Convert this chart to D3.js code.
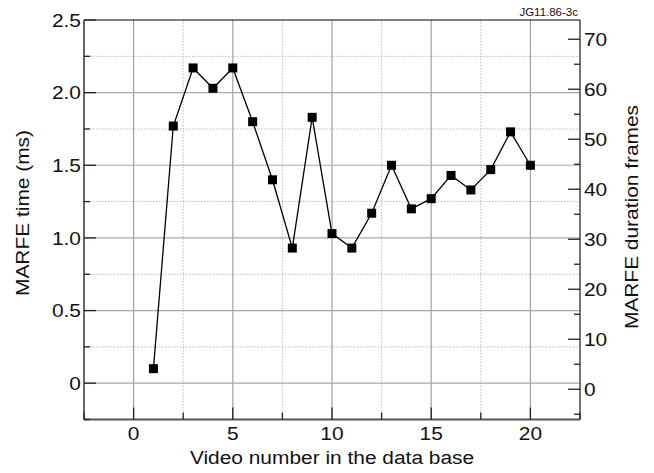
<!DOCTYPE html>
<html>
<head>
<meta charset="utf-8">
<script src="https://cdn.jsdelivr.net/npm/d3@7"></script>
<style>
  body { margin: 0; background: #fff; }
  svg { display: block; font-family: "Liberation Sans", Arial, sans-serif; }
</style>
</head>
<body>
<div id="chart"></div>
<script>
// MARFE time per video, dual axis (ms on left, frames on right)

// ----- data -----
const videoNumbers = [1, 2, 3, 4, 5, 6, 7, 8, 9, 10, 11, 12, 13, 14, 15, 16, 17, 18, 19, 20];
const marfeTimeMs = [0.10, 1.77, 2.17, 2.03, 2.17, 1.80, 1.40, 0.93, 1.83, 1.03,
                     0.93, 1.17, 1.50, 1.20, 1.27, 1.43, 1.33, 1.47, 1.73, 1.50];
const xTicks = [0, 5, 10, 15, 20];
const xMinorTicks = [-2.5, 2.5, 7.5, 12.5, 17.5, 22.5];
const yTicks = [0, 0.5, 1.0, 1.5, 2.0, 2.5];
const yTickLabels = ["0", "0.5", "1.0", "1.5", "2.0", "2.5"];
const yMinorTicks = [-0.25, 0.25, 0.75, 1.25, 1.75, 2.25];
const rightTicks = [0, 10, 20, 30, 40, 50, 60, 70];
const rightMinorTicks = [-5, 5, 15, 25, 35, 45, 55, 65];

const width = 654, height = 473;
const plotLeft = 84, plotRight = 580, plotTop = 20, plotBottom = 419.5;
const fontSize = "19px";
const stretch = "scale(1.1,1)"; // original lettering is a bit wider than Liberation Sans

const svg = d3.select("#chart").append("svg")
  .attr("width", width)
  .attr("height", height);

// scales
const x = d3.scaleLinear().domain([-2.5, 22.5]).range([plotLeft, plotRight]);
const y = d3.scaleLinear().domain([-0.25, 2.5]).range([plotBottom, plotTop]);
const yR = d3.scaleLinear().domain([-6.05, 73.85]).range([plotBottom, plotTop]);

// ----- grid -----
const grid = svg.append("g");
grid.selectAll(".vminor").data(xMinorTicks).enter().append("line")
  .attr("x1", d => x(d)).attr("x2", d => x(d))
  .attr("y1", plotTop).attr("y2", plotBottom)
  .attr("stroke", "#bbb").attr("stroke-width", 1)
  .attr("stroke-dasharray", "1.5,1.5");
grid.selectAll(".hminor").data(yMinorTicks).enter().append("line")
  .attr("x1", plotLeft).attr("x2", plotRight)
  .attr("y1", d => y(d)).attr("y2", d => y(d))
  .attr("stroke", "#bbb").attr("stroke-width", 1)
  .attr("stroke-dasharray", "1.5,1.5");
grid.selectAll(".vmajor").data(xTicks).enter().append("line")
  .attr("x1", d => x(d)).attr("x2", d => x(d))
  .attr("y1", plotTop).attr("y2", plotBottom)
  .attr("stroke", "#a0a0a0").attr("stroke-width", 1.2);
grid.selectAll(".hmajor").data(yTicks.slice(0, -1)).enter().append("line")
  .attr("x1", plotLeft).attr("x2", plotRight)
  .attr("y1", d => y(d)).attr("y2", d => y(d))
  .attr("stroke", "#a8a8a8").attr("stroke-width", 1.2);

// ----- frame -----
svg.append("line").attr("x1", plotLeft).attr("x2", plotRight).attr("y1", plotTop).attr("y2", plotTop)
  .attr("stroke", "#000").attr("stroke-width", 1.2);
svg.append("line").attr("x1", plotRight).attr("x2", plotRight).attr("y1", plotTop).attr("y2", plotBottom)
  .attr("stroke", "#222").attr("stroke-width", 1.2);
svg.append("line").attr("x1", plotLeft).attr("x2", plotRight).attr("y1", plotBottom).attr("y2", plotBottom)
  .attr("stroke", "#555").attr("stroke-width", 2);
svg.append("line").attr("x1", plotLeft).attr("x2", plotLeft).attr("y1", plotTop).attr("y2", plotBottom)
  .attr("stroke", "#444").attr("stroke-width", 1.6);

// ----- ticks -----
const ticks = svg.append("g").attr("stroke", "#222").attr("stroke-width", 1.3);
ticks.selectAll(".lt").data(yTicks).enter().append("line")
  .attr("x1", plotLeft).attr("x2", plotLeft + 12).attr("y1", d => y(d)).attr("y2", d => y(d));
ticks.selectAll(".ltm").data(yMinorTicks).enter().append("line")
  .attr("x1", plotLeft).attr("x2", plotLeft + 6).attr("y1", d => y(d)).attr("y2", d => y(d));
ticks.selectAll(".bt").data(xTicks).enter().append("line")
  .attr("x1", d => x(d)).attr("x2", d => x(d)).attr("y1", plotBottom).attr("y2", plotBottom - 12);
ticks.selectAll(".btm").data(xMinorTicks).enter().append("line")
  .attr("x1", d => x(d)).attr("x2", d => x(d)).attr("y1", plotBottom).attr("y2", plotBottom - 7);
ticks.selectAll(".rt").data(rightTicks).enter().append("line")
  .attr("x1", plotRight).attr("x2", plotRight - 12).attr("y1", d => yR(d)).attr("y2", d => yR(d));
ticks.selectAll(".rtm").data(rightMinorTicks).enter().append("line")
  .attr("x1", plotRight).attr("x2", plotRight - 6).attr("y1", d => yR(d)).attr("y2", d => yR(d));

// ----- tick labels -----
svg.selectAll(".ylab").data(yTicks).enter().append("text")
  .attr("transform", d => "translate(" + (plotLeft - 3) + "," + y(d) + ") " + stretch)
  .attr("dy", "0.36em")
  .attr("text-anchor", "end").style("font-size", fontSize).attr("fill", "#111")
  .text((d, i) => yTickLabels[i]);
svg.selectAll(".xlab").data(xTicks).enter().append("text")
  .attr("transform", d => "translate(" + x(d) + ",439.5) " + stretch)
  .attr("text-anchor", "middle").style("font-size", fontSize).attr("fill", "#111")
  .text(d => d);
svg.selectAll(".rlab").data(rightTicks).enter().append("text")
  .attr("transform", d => "translate(" + (plotRight + 4) + "," + yR(d) + ") " + stretch)
  .attr("dy", "0.36em")
  .attr("text-anchor", "start").style("font-size", fontSize).attr("fill", "#111")
  .text(d => d);

// ----- axis titles -----
svg.append("text")
  .attr("transform", "translate(" + ((plotLeft + plotRight) / 2) + ",464) " + stretch)
  .attr("text-anchor", "middle").style("font-size", fontSize).attr("fill", "#111")
  .text("Video number in the data base");
svg.append("text")
  .attr("transform", "translate(29,213) rotate(-90) " + stretch)
  .attr("text-anchor", "middle").style("font-size", fontSize).attr("fill", "#111")
  .text("MARFE time (ms)");
svg.append("text")
  .attr("transform", "translate(638,217) rotate(-90) " + stretch)
  .attr("text-anchor", "middle").style("font-size", fontSize).attr("fill", "#111")
  .text("MARFE duration frames");
svg.append("text")
  .attr("x", 578).attr("y", 15.5)
  .attr("text-anchor", "end").style("font-size", "11.5px").attr("fill", "#111")
  .text("JG11.86-3c");

// ----- series -----
const points = videoNumbers.map((v, i) => [v, marfeTimeMs[i]]);
svg.append("path")
  .datum(points)
  .attr("d", d3.line().x(d => x(d[0])).y(d => y(d[1])))
  .attr("fill", "none").attr("stroke", "#000").attr("stroke-width", 1.3);
const s = 9;
svg.selectAll(".pt").data(points).enter().append("rect")
  .attr("x", d => x(d[0]) - s / 2).attr("y", d => y(d[1]) - s / 2)
  .attr("width", s).attr("height", s).attr("fill", "#000");
</script>
</body>
</html>
